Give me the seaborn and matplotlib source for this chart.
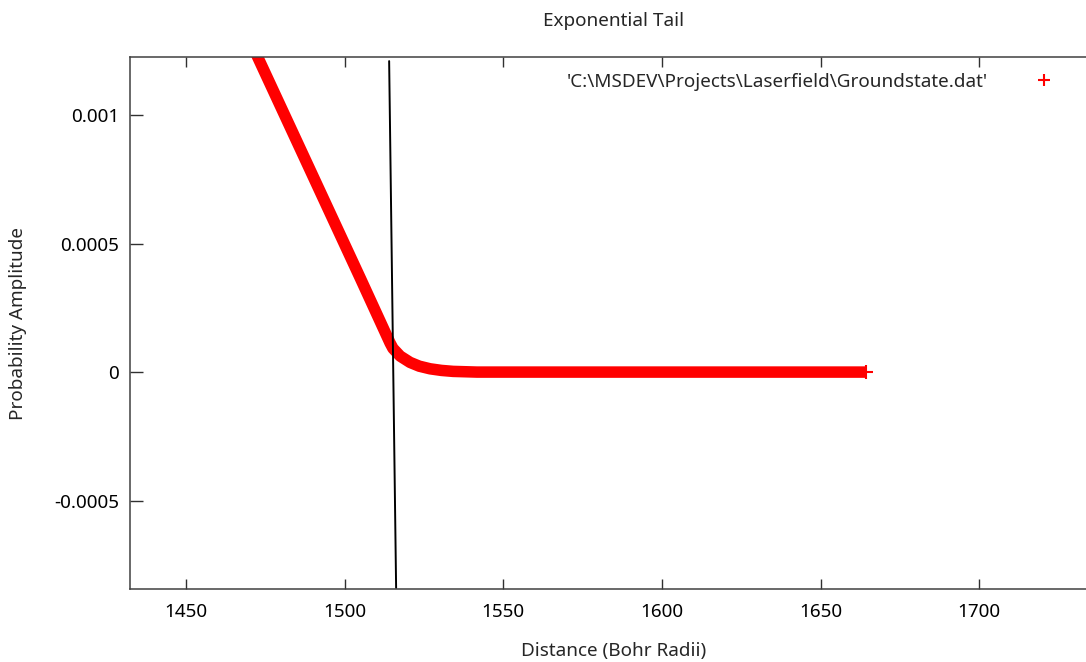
import matplotlib
matplotlib.use("Agg")
import matplotlib.pyplot as plt
from matplotlib.lines import Line2D
import seaborn as sns

# ground state tail (Bohr radii, amplitude)
dist = [1471.3, 1473.0, 1490.0, 1505.0, 1514.3, 1515.2, 1517.5, 1520.6,
        1523.5, 1526.9, 1530.5, 1534.2, 1541.7, 1600.0, 1664.4]
amp = [0.00126, 0.001214, 0.000762, 0.000363, 0.000113, 0.0000922, 0.000062,
       0.0000377, 0.000023, 0.0000128, 0.0000065, 0.0000027, 0.0, 0.0, 0.0]

# vertical marker line
mark_x = [1514.0, 1516.2]
mark_y = [0.00121, -0.00084]

xticks = [1450, 1500, 1550, 1600, 1650, 1700]
yticks = [-0.0005, 0, 0.0005, 0.001]
ytick_labels = ["-0.0005", "0", "0.0005", "0.001"]
legend_label = "'C:\\MSDEV\\Projects\\Laserfield\\Groundstate.dat'"

sns.set_theme(style="ticks")
plt.rcParams["font.family"] = ["Noto Sans", "DejaVu Sans"]
fs = 13.6

fig = plt.figure(figsize=(10.86, 6.62), dpi=100)
ax = fig.add_axes([130 / 1086, 73 / 662, 1 - 130 / 1086, 532 / 662])

sns.lineplot(x=dist, y=amp, ax=ax, color="red", linewidth=8.3,
             solid_capstyle="butt", marker="+", markevery=[-1],
             markersize=10, markeredgewidth=1.5, markeredgecolor="red")
sns.lineplot(x=mark_x, y=mark_y, ax=ax, color="black", linewidth=1.4)

ax.set_xlim(1432.3, 1733.7)
ax.set_ylim(-0.000844, 0.001226)
ax.set_xticks(xticks)
ax.set_xticklabels([str(t) for t in xticks])
ax.set_yticks(yticks)
ax.set_yticklabels(ytick_labels)

for s in ["left", "bottom", "top"]:
    ax.spines[s].set_color("#404040")
    ax.spines[s].set_linewidth(1.1)
ax.spines["right"].set_visible(False)
ax.tick_params(axis="both", direction="in", length=7, width=1.0,
               color="#303030", labelsize=fs, labelcolor="black")
ax.tick_params(axis="x", top=True, pad=10)
ax.tick_params(axis="y", length=9, pad=8)

ax.set_xlabel("")
ax.set_ylabel("")
fig.text(614 / 1086, 1 - 21 / 662, "Exponential Tail", ha="center",
         va="center", fontsize=fs)
fig.text(614 / 1086, 1 - 651 / 662, "Distance (Bohr Radii)", ha="center",
         va="center", fontsize=fs)
fig.text(18 / 1086, 1 - 323 / 662, "Probability Amplitude", ha="center",
         va="center", rotation=90, fontsize=fs)

h = Line2D([], [], color="red", marker="+", linestyle="none",
           markersize=9, markeredgewidth=1.5)
ax.legend(handles=[h], labels=[legend_label], loc="upper right",
          bbox_to_anchor=(1063 / 1086, 1 - 73 / 662),
          bbox_transform=fig.transFigure, frameon=False, markerfirst=False,
          handletextpad=2.0, borderpad=0, borderaxespad=0, fontsize=fs)

fig.savefig("out.png", dpi=100)
